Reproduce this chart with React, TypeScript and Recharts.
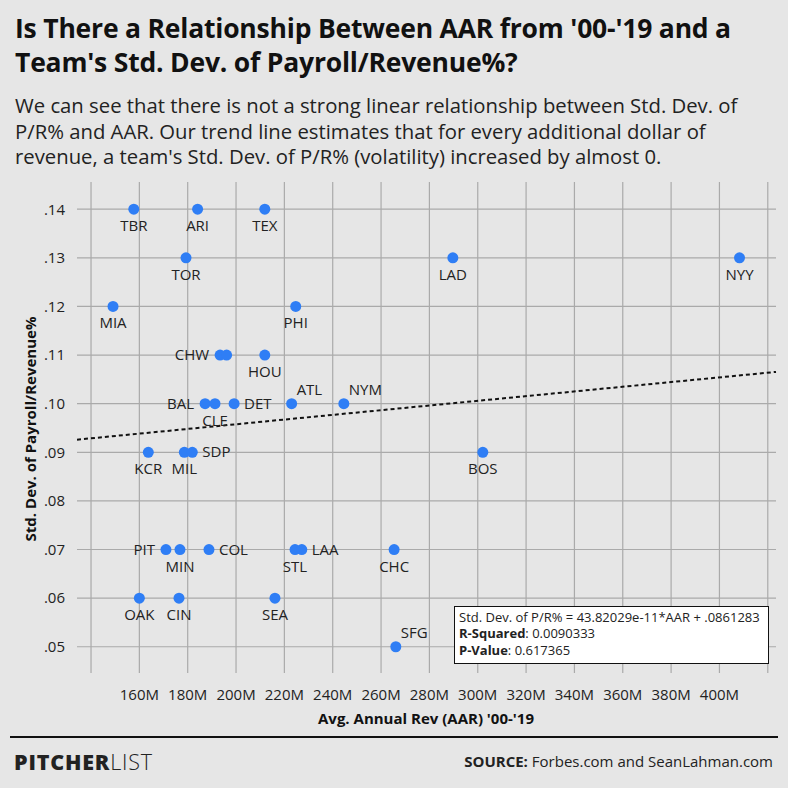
import { ScatterChart, Scatter, XAxis, YAxis, CartesianGrid, ReferenceLine } from "recharts";

// team abbreviations, avg annual revenue '00-'19 ($M), std. dev. of payroll/revenue %
const teams = [
  "TBR", "ARI", "TEX", "TOR", "LAD", "NYY", "MIA", "PHI", "CHW", "WSN",
  "HOU", "BAL", "CLE", "DET", "ATL", "NYM", "KCR", "MIL", "SDP", "BOS",
  "PIT", "MIN", "COL", "STL", "LAA", "CHC", "OAK", "CIN", "SEA", "SFG",
];
const aar = [
  157.7, 184.1, 211.9, 179.3, 289.7, 408.3, 149.1, 224.7, 193.4, 196.1,
  211.9, 187.2, 191.3, 199.2, 223.0, 244.6, 163.7, 178.6, 181.9, 302.1,
  171.0, 176.8, 188.8, 224.4, 227.2, 265.4, 160.0, 176.4, 216.1, 266.1,
];
const stdDev = [
  0.14, 0.14, 0.14, 0.13, 0.13, 0.13, 0.12, 0.12, 0.11, 0.11,
  0.11, 0.1, 0.1, 0.1, 0.1, 0.1, 0.09, 0.09, 0.09, 0.09,
  0.07, 0.07, 0.07, 0.07, 0.07, 0.07, 0.06, 0.06, 0.06, 0.05,
];

const xTicks = [140, 160, 180, 200, 220, 240, 260, 280, 300, 320, 340, 360, 380, 400, 420];
const yTicks = [0.05, 0.06, 0.07, 0.08, 0.09, 0.1, 0.11, 0.12, 0.13, 0.14];
const xDomain = [134.2, 423.4];
const yDomain = [0.0446, 0.1456];

// regression fit (slope per dollar), as drawn
const trendSlope = 4.82029e-11;
const trendIntercept = 0.0861283;

// where each team's label sits relative to its dot
const labelSide: Record<string, string> = {
  BAL: "left", CHW: "left", PIT: "left",
  DET: "right", SDP: "right", COL: "right", LAA: "right",
  ATL: "aboveRight", NYM: "aboveRight", SFG: "aboveRight",
  WSN: "none",
};

const data = teams.map((t, i) => ({ team: t, x: aar[i], y: stdDev[i] }));
const trend = xDomain.map((x) => ({ x, y: trendIntercept + trendSlope * x * 1e6 }));

const FONT = "'Open Sans', sans-serif";

function Dot(props: any) {
  const { cx, cy, payload } = props;
  const side = labelSide[payload.team] || "below";
  let tx = cx, ty = cy + 22, anchor = "middle";
  if (side === "left") { tx = cx - 11; ty = cy + 5; anchor = "end"; }
  if (side === "right") { tx = cx + 10; ty = cy + 5; anchor = "start"; }
  if (side === "aboveRight") { tx = cx + 5; ty = cy - 9; anchor = "start"; }
  return (
    <g>
      <circle cx={cx} cy={cy} r={5.5} fill="#2f7ef5" />
      {side !== "none" && (
        <text x={tx} y={ty} textAnchor={anchor} fontSize={15} fill="#222" fontFamily={FONT}>
          {payload.team}
        </text>
      )}
    </g>
  );
}

export default function App() {
  return (
    <div style={{ position: "absolute", top: 0, left: 0, width: 788, height: 788, background: "#e6e6e6", fontFamily: FONT, color: "#111", overflow: "hidden" }}>
      <div style={{ position: "absolute", left: 15, top: 11, fontSize: 26.5, fontWeight: 700, lineHeight: "34px", letterSpacing: -0.2 }}>
        Is There a Relationship Between AAR from '00-'19 and a<br />
        Team's Std. Dev. of Payroll/Revenue%?
      </div>
      <div style={{ position: "absolute", left: 15, top: 93, fontSize: 20.3, lineHeight: "25.5px", color: "#222" }}>
        We can see that there is not a strong linear relationship between Std. Dev. of<br />
        P/R% and AAR. Our trend line estimates that for every additional dollar of<br />
        revenue, a team's Std. Dev. of P/R% (volatility) increased by almost 0.
      </div>

      <div style={{ position: "absolute", left: 0, top: 0 }}>
        <ScatterChart width={788} height={788} margin={{ top: 182, right: 12, bottom: 85, left: 37 }}>
          <CartesianGrid stroke="#aaaaaa" strokeWidth={1.2} syncWithTicks />
          <XAxis
            type="number"
            dataKey="x"
            domain={xDomain}
            ticks={xTicks}
            allowDataOverflow
            axisLine={false}
            tickLine={false}
            tickMargin={10}
            height={30}
            tick={{ fontSize: 15, fill: "#222", fontFamily: FONT }}
            tickFormatter={(v: number) => (v === 140 || v === 420 ? "" : `${v}M`)}
          />
          <YAxis
            type="number"
            dataKey="y"
            domain={yDomain}
            ticks={yTicks}
            allowDataOverflow
            axisLine={false}
            tickLine={false}
            tickMargin={6}
            width={40}
            tick={{ fontSize: 15, fill: "#222", fontFamily: FONT }}
            tickFormatter={(v: number) => v.toFixed(2).replace(/^0/, "")}
          />
          <ReferenceLine
            segment={trend}
            stroke="#111"
            strokeWidth={2}
            strokeDasharray="4 3"
            ifOverflow="visible"
          />
          <Scatter data={data} shape={<Dot />} isAnimationActive={false} />
        </ScatterChart>
      </div>

      <div style={{ position: "absolute", left: 30, top: 429, transform: "translate(-50%, -50%) rotate(-90deg)", fontSize: 15, fontWeight: 700, whiteSpace: "nowrap" }}>
        Std. Dev. of Payroll/Revenue%
      </div>
      <div style={{ position: "absolute", left: 426, top: 718, transform: "translate(-50%, -50%)", fontSize: 15, fontWeight: 700, whiteSpace: "nowrap" }}>
        Avg. Annual Rev (AAR) '00-'19
      </div>

      <div style={{ position: "absolute", left: 454, top: 606, width: 315, height: 58, background: "#fff", border: "1px solid #111", boxSizing: "border-box", padding: "2px 4px", fontSize: 13, lineHeight: "16.3px", color: "#222", whiteSpace: "nowrap" }}>
        Std. Dev. of P/R% = 43.82029e-11*AAR + .0861283<br />
        <b>R-Squared</b>: 0.0090333<br />
        <b>P-Value</b>: 0.617365
      </div>

      <div style={{ position: "absolute", left: 10, top: 736, width: 768, height: 2, background: "#111" }} />
      <div style={{ position: "absolute", left: 14, top: 747, fontSize: 21.5, letterSpacing: 0.8, color: "#222" }}>
        <span style={{ fontWeight: 800 }}>PITCHER</span>
        <span style={{ fontWeight: 300 }}>LIST</span>
      </div>
      <div style={{ position: "absolute", right: 15, top: 751, fontSize: 15, color: "#222" }}>
        <b>SOURCE:</b> Forbes.com and SeanLahman.com
      </div>
    </div>
  );
}
